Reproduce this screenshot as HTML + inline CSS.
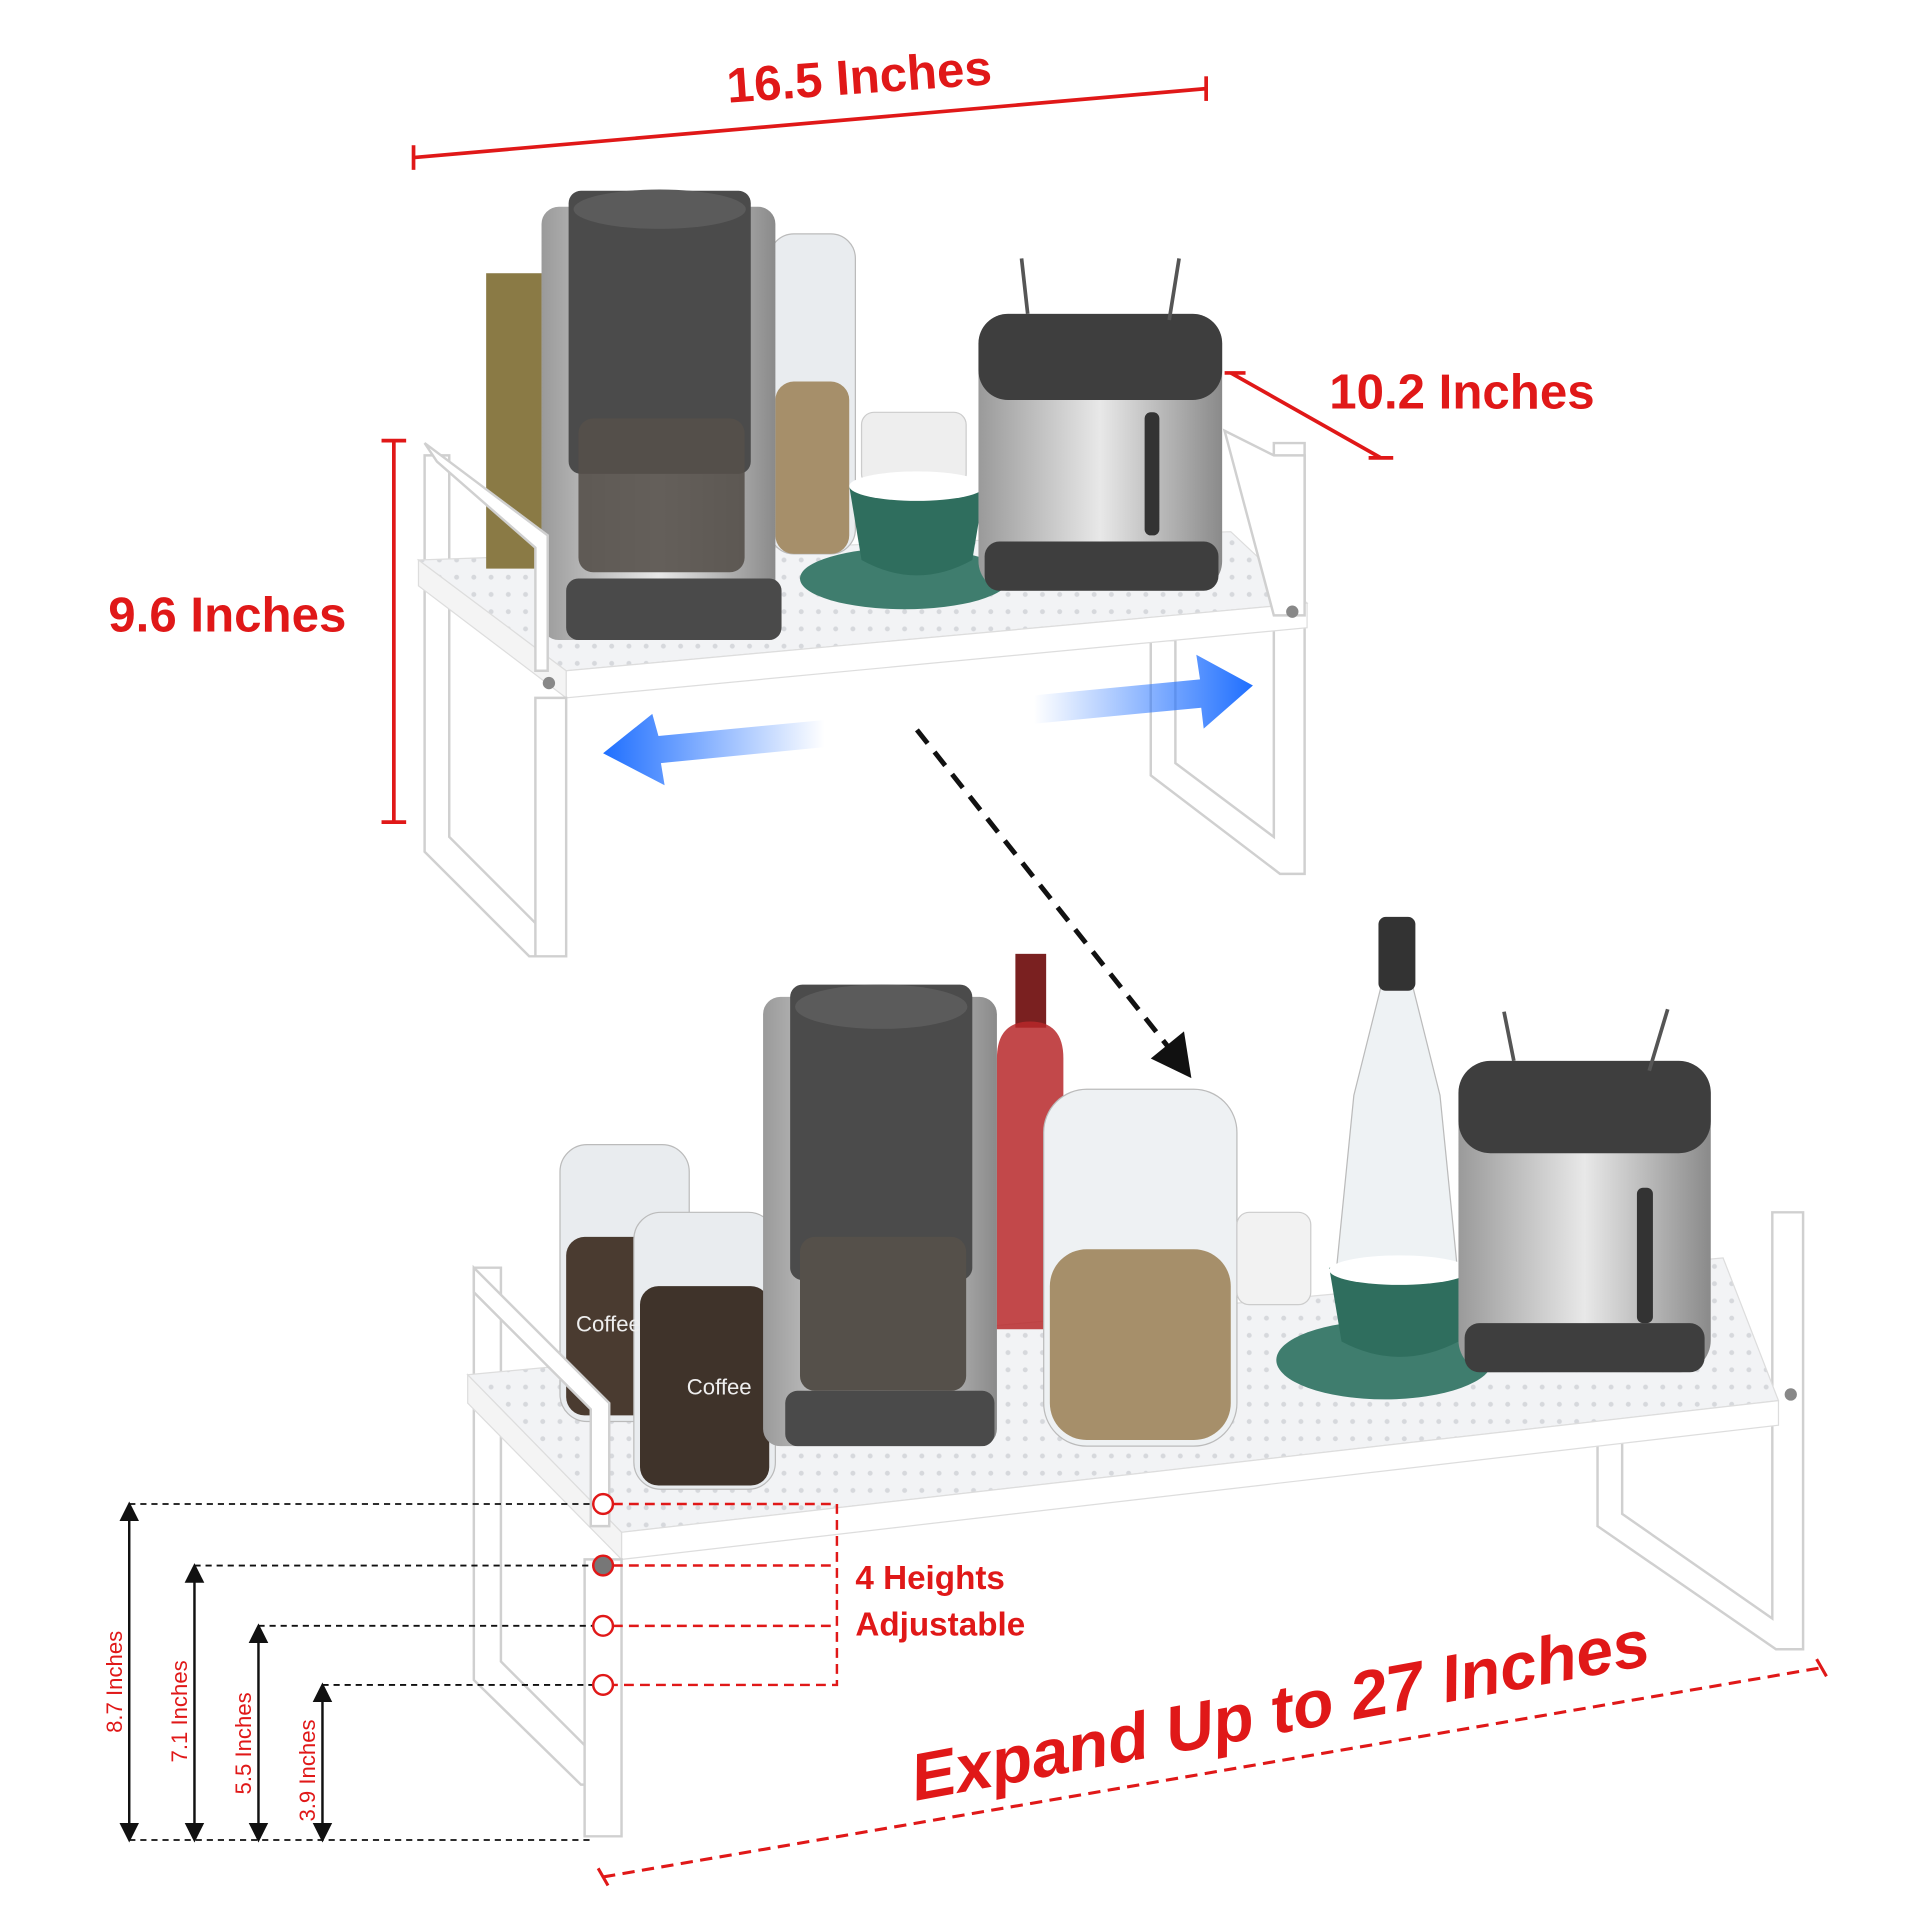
<!DOCTYPE html>
<html><head><meta charset="utf-8"><style>
html,body{margin:0;padding:0;background:#fff;width:1920px;height:1920px;overflow:hidden}
svg{display:block}
text{font-family:"Liberation Sans",sans-serif}
</style></head><body>
<svg width="1920" height="1920" viewBox="0 0 1560 1560" xmlns="http://www.w3.org/2000/svg">
<defs>
<linearGradient id="bl" x1="0" x2="1"><stop offset="0" stop-color="#1f6fff"/><stop offset="1" stop-color="#1f6fff" stop-opacity="0"/></linearGradient>
<linearGradient id="br" x1="1" x2="0"><stop offset="0" stop-color="#1f6fff"/><stop offset="1" stop-color="#1f6fff" stop-opacity="0"/></linearGradient>
<linearGradient id="sil" x1="0" x2="1"><stop offset="0" stop-color="#9a9a9a"/><stop offset="0.5" stop-color="#e8e8e8"/><stop offset="1" stop-color="#8a8a8a"/></linearGradient>
<pattern id="dots" width="14" height="14" patternUnits="userSpaceOnUse"><rect width="14" height="14" fill="#f2f3f5"/><circle cx="7" cy="7" r="2" fill="#d6d8dc"/></pattern>
<marker id="ah" markerWidth="8" markerHeight="8" refX="4" refY="4" orient="auto-start-reverse"><path d="M0,0 L8,4 L0,8 Z" fill="#111"/></marker>
</defs>

<!-- TOP SHELF back legs -->
<g fill="#fff" stroke="#d0d0d0" stroke-width="2">
<path d="M345,370 h20 v310 l85,85 v12 l-20,0 l-85,-85 Z"/>
<path d="M1035,360 h25 v350 h-20 l-105,-80 v-110 h20 v100 l80,60 Z"/>
</g>
<!-- top board -->
<path d="M340,455 L1000,432 L1062,490 L460,545 Z" fill="url(#dots)" stroke="#ddd"/>
<path d="M460,545 L1062,490 L1062,510 L460,567 Z" fill="#fff" stroke="#ddd"/>
<path d="M340,455 L460,545 L460,567 L340,476 Z" fill="#f4f4f4" stroke="#ddd"/>
<!-- top appliances -->
<rect x="395" y="222" width="45" height="240" fill="#8a7a45"/>
<rect x="625" y="190" width="70" height="260" rx="20" fill="#e9ecef" stroke="#bbb"/>
<rect x="630" y="310" width="60" height="140" rx="15" fill="#a68f6a"/>
<rect x="440" y="168" width="190" height="352" rx="14" fill="url(#sil)"/>
<rect x="462" y="155" width="148" height="230" rx="10" fill="#4b4b4b"/>
<ellipse cx="536" cy="170" rx="70" ry="16" fill="#5b5b5b"/>
<rect x="470" y="340" width="135" height="125" rx="12" fill="#55504a" opacity="0.9"/>
<rect x="460" y="470" width="175" height="50" rx="10" fill="#4a4a4a"/>
<rect x="700" y="335" width="85" height="60" rx="10" fill="#eee" stroke="#ccc"/>
<ellipse cx="735" cy="470" rx="85" ry="25" fill="#3f7d6e"/>
<path d="M690,395 h110 l-10,60 q-45,25 -90,0 Z" fill="#2f6e5e"/>
<ellipse cx="745" cy="395" rx="55" ry="12" fill="#fff"/>
<rect x="795" y="255" width="198" height="225" rx="24" fill="url(#sil)"/>
<rect x="795" y="255" width="198" height="70" rx="24" fill="#3e3e3e"/>
<rect x="800" y="440" width="190" height="40" rx="12" fill="#3e3e3e"/>
<rect x="930" y="335" width="12" height="100" rx="5" fill="#333"/>
<path d="M835,255 l-5,-45 M950,260 l8,-50" stroke="#555" stroke-width="3" fill="none"/>
<g fill="#fff" stroke="#d0d0d0" stroke-width="2">
<path d="M435,567 h25 v210 h-25 Z"/>
<path d="M345,360 l100,75 v110 h-10 v-100 l-80,-70 Z"/>
<path d="M995,350 l40,20 h25 v130 h-25 Z"/>
</g>
<circle cx="446" cy="555" r="5" fill="#888"/><circle cx="1050" cy="497" r="5" fill="#888"/>

<!-- blue arrows -->
<path d="M670,585 L535,598 L530,580 L490,612 L540,638 L537,620 L670,607 Z" fill="url(#bl)"/>
<path d="M840,565 L975,552 L972,532 L1018,557 L978,592 L976,575 L840,588 Z" fill="url(#br)"/>

<!-- dashed black arrow -->
<line x1="745" y1="593" x2="955" y2="858" stroke="#111" stroke-width="4" stroke-dasharray="14,9"/>
<path d="M935,860 L968,876 L962,838 Z" fill="#111"/>

<!-- BOTTOM SHELF back legs -->
<g fill="#fff" stroke="#d0d0d0" stroke-width="2">
<path d="M385,1030 h22 v320 l85,85 v15 h-20 l-87,-85 Z"/>
<path d="M1440,985 h25 v355 h-22 l-145,-100 v-75 h20 v65 l122,85 Z"/>
</g>
<!-- bottom board -->
<path d="M380,1117 L1400,1022 L1445,1138 L505,1245 Z" fill="url(#dots)" stroke="#ddd"/>
<path d="M505,1245 L1445,1138 L1445,1158 L505,1267 Z" fill="#fff" stroke="#ddd"/>
<path d="M380,1117 L505,1245 L505,1267 L380,1140 Z" fill="#f4f4f4" stroke="#ddd"/>
<!-- bottom appliances -->
<rect x="455" y="930" width="105" height="225" rx="22" fill="#e9ecef" stroke="#bbb"/>
<rect x="460" y="1005" width="95" height="145" rx="15" fill="#4a3b30"/>
<rect x="515" y="985" width="115" height="225" rx="22" fill="#e9ecef" stroke="#bbb"/>
<rect x="520" y="1045" width="105" height="162" rx="15" fill="#3f332a"/>
<text x="558" y="1133" fill="#eee" font-size="18">Coffee</text>
<text x="468" y="1082" fill="#eee" font-size="18">Coffee</text>
<rect x="620" y="810" width="190" height="365" rx="14" fill="url(#sil)"/>
<rect x="642" y="800" width="148" height="240" rx="10" fill="#4b4b4b"/>
<ellipse cx="716" cy="818" rx="70" ry="18" fill="#5b5b5b"/>
<rect x="650" y="1005" width="135" height="125" rx="12" fill="#55504a"/>
<rect x="638" y="1130" width="170" height="45" rx="10" fill="#4a4a4a"/>
<rect x="825" y="775" width="25" height="60" fill="#7a2020"/>
<path d="M810,860 q0,-30 27,-30 q27,0 27,30 v220 h-54 Z" fill="#b7282a" opacity="0.85"/>
<rect x="848" y="885" width="157" height="290" rx="35" fill="#eef1f3" stroke="#bbb"/>
<rect x="853" y="1015" width="147" height="155" rx="30" fill="#a68f6a"/>
<rect x="1005" y="985" width="60" height="75" rx="10" fill="#f2f2f2" stroke="#ccc"/>
<path d="M1125,790 L1100,890 L1085,1040 H1185 L1170,890 L1145,790 Z" fill="#eef2f4" stroke="#bbb"/>
<rect x="1120" y="745" width="30" height="60" rx="6" fill="#333"/>
<ellipse cx="1125" cy="1105" rx="88" ry="32" fill="#3f7d6e"/>
<path d="M1080,1030 h115 l-10,60 q-48,25 -95,0 Z" fill="#2f6e5e"/>
<ellipse cx="1137" cy="1032" rx="57" ry="12" fill="#fff"/>
<rect x="1185" y="862" width="205" height="253" rx="26" fill="url(#sil)"/>
<rect x="1185" y="862" width="205" height="75" rx="26" fill="#3e3e3e"/>
<rect x="1190" y="1075" width="195" height="40" rx="12" fill="#3e3e3e"/>
<rect x="1330" y="965" width="13" height="110" rx="5" fill="#333"/>
<path d="M1230,862 l-8,-40 M1340,870 l15,-50" stroke="#555" stroke-width="3" fill="none"/>
<g fill="#fff" stroke="#d0d0d0" stroke-width="2">
<path d="M475,1267 h30 v225 h-30 Z"/>
<path d="M385,1030 l110,110 v100 h-15 v-95 l-95,-95 Z"/>
</g>
<circle cx="1455" cy="1133" r="5" fill="#888"/>

<!-- RED dimensions top -->
<g stroke="#e01818" stroke-width="3" fill="none">
<line x1="336" y1="128" x2="980" y2="72"/><line x1="336" y1="118" x2="336" y2="138"/><line x1="980" y1="62" x2="980" y2="82"/>
<line x1="1000" y1="303" x2="1122" y2="372"/><line x1="995" y1="303" x2="1012" y2="303"/><line x1="1112" y1="372" x2="1132" y2="372"/>
<line x1="320" y1="358" x2="320" y2="668"/><line x1="310" y1="358" x2="330" y2="358"/><line x1="310" y1="668" x2="330" y2="668"/>
</g>
<g fill="#e01818" font-weight="bold">
<text x="698" y="76" font-size="40" text-anchor="middle" transform="rotate(-4 698 62)">16.5 Inches</text>
<text x="1080" y="332" font-size="40">10.2 Inches</text>
<text x="88" y="513" font-size="40">9.6 Inches</text>
<text x="1040" y="1408" font-size="54" font-style="italic" text-anchor="middle" transform="rotate(-10.5 1040 1390)">Expand Up to 27 Inches</text>
<text x="695" y="1291" font-size="27">4 Heights</text>
<text x="695" y="1329" font-size="27">Adjustable</text>
</g>
<g stroke="#e01818" stroke-width="2.5" fill="none" stroke-dasharray="10,6">
<line x1="490" y1="1525" x2="1480" y2="1355"/>
</g>
<g stroke="#e01818" stroke-width="2.5" fill="none">
<line x1="486" y1="1518" x2="494" y2="1532"/><line x1="1476" y1="1348" x2="1484" y2="1362"/>
</g>
<!-- heights -->
<g stroke="#111" stroke-width="1.5" stroke-dasharray="5,4" fill="none">
<line x1="105" y1="1222" x2="482" y2="1222"/><line x1="158" y1="1272" x2="482" y2="1272"/>
<line x1="210" y1="1321" x2="482" y2="1321"/><line x1="262" y1="1369" x2="482" y2="1369"/>
<line x1="105" y1="1495" x2="480" y2="1495"/>
</g>
<g stroke="#111" stroke-width="2" marker-start="url(#ah)" marker-end="url(#ah)">
<line x1="105" y1="1228" x2="105" y2="1489"/><line x1="158" y1="1278" x2="158" y2="1489"/>
<line x1="210" y1="1327" x2="210" y2="1489"/><line x1="262" y1="1375" x2="262" y2="1489"/>
</g>
<g fill="#e01818" font-size="18">
<text transform="translate(99 1408) rotate(-90)">8.7 Inches</text>
<text transform="translate(152 1432) rotate(-90)">7.1 Inches</text>
<text transform="translate(204 1458) rotate(-90)">5.5 Inches</text>
<text transform="translate(256 1480) rotate(-90)">3.9 Inches</text>
</g>
<g stroke="#e01818" stroke-width="2" fill="none">
<path d="M498,1222 H680 V1369 H498 M498,1272 H680 M498,1321 H680" stroke-dasharray="8,5"/>
<circle cx="490" cy="1222" r="8" fill="#fff"/><circle cx="490" cy="1272" r="8" fill="#777"/>
<circle cx="490" cy="1321" r="8" fill="#fff"/><circle cx="490" cy="1369" r="8" fill="#fff"/>
</g>
</svg>
</body></html>
